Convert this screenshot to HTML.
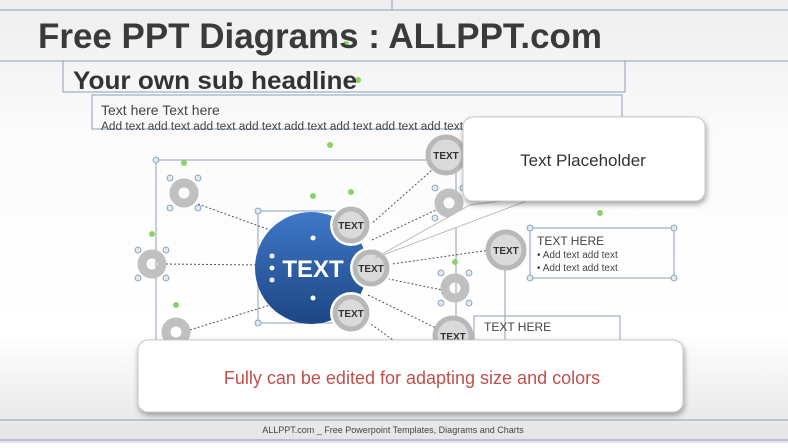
<!DOCTYPE html>
<html><head><meta charset="utf-8"><style>
html,body{margin:0;padding:0}
body{width:788px;height:443px;overflow:hidden;font-family:"Liberation Sans",sans-serif}
</style></head><body>
<svg width="788" height="443" viewBox="0 0 788 443" xmlns="http://www.w3.org/2000/svg" font-family="Liberation Sans, sans-serif">
<defs>
<linearGradient id="bg" x1="0" y1="0" x2="0" y2="1"><stop offset="0" stop-color="#eeeeee"/><stop offset="0.3" stop-color="#fbfbfb"/><stop offset="0.75" stop-color="#ffffff"/><stop offset="1" stop-color="#e4e4e4"/></linearGradient>
<linearGradient id="bl" x1="0" y1="0" x2="0" y2="1"><stop offset="0" stop-color="#3f78c8"/><stop offset="1" stop-color="#1d4683"/></linearGradient>
<filter id="sh" x="-10%" y="-20%" width="120%" height="150%"><feDropShadow dx="1" dy="3" stdDeviation="3" flood-color="#000" flood-opacity="0.35"/></filter>
</defs>
<rect width="788" height="443" fill="url(#bg)"/>
<g stroke="#8aa0b8" stroke-width="1" fill="none">
<line x1="0" y1="10" x2="788" y2="10"/><line x1="0" y1="61" x2="788" y2="61"/>
<line x1="392" y1="0" x2="392" y2="10"/>
<rect x="63" y="61" width="562" height="31"/>
<rect x="92" y="95" width="530" height="34"/>
<rect x="156" y="160" width="300" height="190"/>
<rect x="258" y="211" width="96" height="112"/>
<rect x="530" y="228" width="144" height="50"/>
<rect x="474" y="316" width="146" height="30"/>
<line x1="505" y1="250" x2="505" y2="345"/>
<line x1="0" y1="420" x2="788" y2="420"/><line x1="0" y1="440" x2="788" y2="440"/>
</g>
<g stroke="#555" stroke-width="1" stroke-dasharray="2,2">
<line x1="198" y1="204" x2="270" y2="230"/><line x1="166" y1="264" x2="258" y2="265"/>
<line x1="190" y1="330" x2="270" y2="305"/><line x1="370" y1="225" x2="432" y2="170"/>
<line x1="372" y1="240" x2="436" y2="210"/><line x1="385" y1="265" x2="490" y2="250"/>
<line x1="384" y1="278" x2="442" y2="290"/><line x1="368" y1="295" x2="440" y2="330"/>
<line x1="368" y1="322" x2="400" y2="345"/>
</g>
<circle cx="311" cy="268" r="56" fill="url(#bl)"/>
<g fill="#fff"><circle cx="351" cy="225" r="21"/><circle cx="371" cy="268" r="21"/><circle cx="351" cy="313" r="21"/></g>
<text x="313" y="277" font-size="24" font-weight="bold" fill="#fff" text-anchor="middle">TEXT</text>
<g fill="#fff"><circle cx="272" cy="256" r="2.5"/><circle cx="272" cy="268" r="2.5"/><circle cx="272" cy="280" r="2.5"/><circle cx="313" cy="238" r="2.5"/><circle cx="313" cy="298" r="2.5"/></g>
<g fill="none" stroke="#c0c0c0" stroke-width="9">
<circle cx="184" cy="193" r="10"/><circle cx="152" cy="264" r="10"/><circle cx="176" cy="332" r="10"/>
<circle cx="449" cy="203" r="10"/><circle cx="455" cy="288" r="10"/>
</g>
<g fill="#dadada" stroke="#b8b8b8" stroke-width="5">
<circle cx="351" cy="225" r="16"/><circle cx="371" cy="268" r="16"/><circle cx="351" cy="313" r="16"/>
<circle cx="446" cy="155" r="18"/><circle cx="506" cy="250" r="18"/><circle cx="453" cy="336" r="18"/>
</g>
<g font-size="10" font-weight="bold" fill="#333" text-anchor="middle">
<text x="351" y="229">TEXT</text><text x="371" y="272">TEXT</text><text x="351" y="317">TEXT</text>
<text x="446" y="159">TEXT</text><text x="506" y="254">TEXT</text><text x="453" y="340">TEXT</text>
</g>
<g fill="#dfe8f2" stroke="#7a92ad" stroke-width="0.8">
<circle cx="170" cy="178" r="3"/><circle cx="198" cy="178" r="3"/><circle cx="170" cy="208" r="3"/><circle cx="198" cy="208" r="3"/>
<circle cx="138" cy="250" r="3"/><circle cx="166" cy="250" r="3"/><circle cx="138" cy="278" r="3"/><circle cx="166" cy="278" r="3"/>
<circle cx="435" cy="188" r="3"/><circle cx="463" cy="188" r="3"/><circle cx="435" cy="218" r="3"/><circle cx="463" cy="218" r="3"/>
<circle cx="441" cy="273" r="3"/><circle cx="469" cy="273" r="3"/><circle cx="441" cy="303" r="3"/><circle cx="469" cy="303" r="3"/>
<circle cx="258" cy="211" r="3"/><circle cx="258" cy="323" r="3"/><circle cx="156" cy="160" r="3"/>
<circle cx="530" cy="228" r="3"/><circle cx="674" cy="228" r="3"/><circle cx="674" cy="278" r="3"/><circle cx="530" cy="278" r="3"/>
</g>
<g fill="#8bd16a"><circle cx="184" cy="163" r="3"/><circle cx="152" cy="234" r="3"/><circle cx="176" cy="305" r="3"/><circle cx="313" cy="196" r="3"/><circle cx="330" cy="145" r="3"/><circle cx="600" cy="213" r="3"/><circle cx="346" cy="44" r="3"/><circle cx="358" cy="80" r="3"/><circle cx="455" cy="262" r="3"/><circle cx="351" cy="192" r="3"/></g>
<text x="38" y="48" font-size="35" font-weight="bold" fill="#3a3a3a" textLength="564" lengthAdjust="spacingAndGlyphs">Free PPT Diagrams : ALLPPT.com</text>
<text x="73" y="89" font-size="25" font-weight="bold" fill="#333" textLength="284" lengthAdjust="spacingAndGlyphs">Your own sub headline</text>
<text x="101" y="115" font-size="14" fill="#444">Text here Text here</text>
<text x="101" y="130" font-size="11.5" fill="#444" textLength="362" lengthAdjust="spacingAndGlyphs">Add text add text add text add text add text add text add text add text</text>
<text x="537" y="245" font-size="12" fill="#444">TEXT HERE</text>
<text x="537" y="258" font-size="10" fill="#444">•  Add text  add  text</text>
<text x="537" y="271" font-size="10" fill="#444">•  Add text  add  text</text>
<text x="484" y="331" font-size="12" fill="#444">TEXT HERE</text>
<path d="M375 258 L470 205 L540 196 Z" fill="#fff" stroke="#bbb" stroke-width="1"/>
<rect x="463" y="117" width="242" height="84" rx="10" fill="#fff" stroke="#c8c8c8" filter="url(#sh)"/>
<text x="583" y="166" font-size="17" fill="#333" text-anchor="middle">Text  Placeholder</text>
<rect x="138" y="340" width="545" height="72" rx="10" fill="#fff" stroke="#c8c8c8" filter="url(#sh)"/>
<text x="412" y="384" font-size="18" fill="#c0504d" text-anchor="middle">Fully can be edited for adapting size and colors</text>
<text x="393" y="433" font-size="9" fill="#444" text-anchor="middle">ALLPPT.com _ Free Powerpoint Templates, Diagrams and Charts</text>
</svg>
</body></html>
